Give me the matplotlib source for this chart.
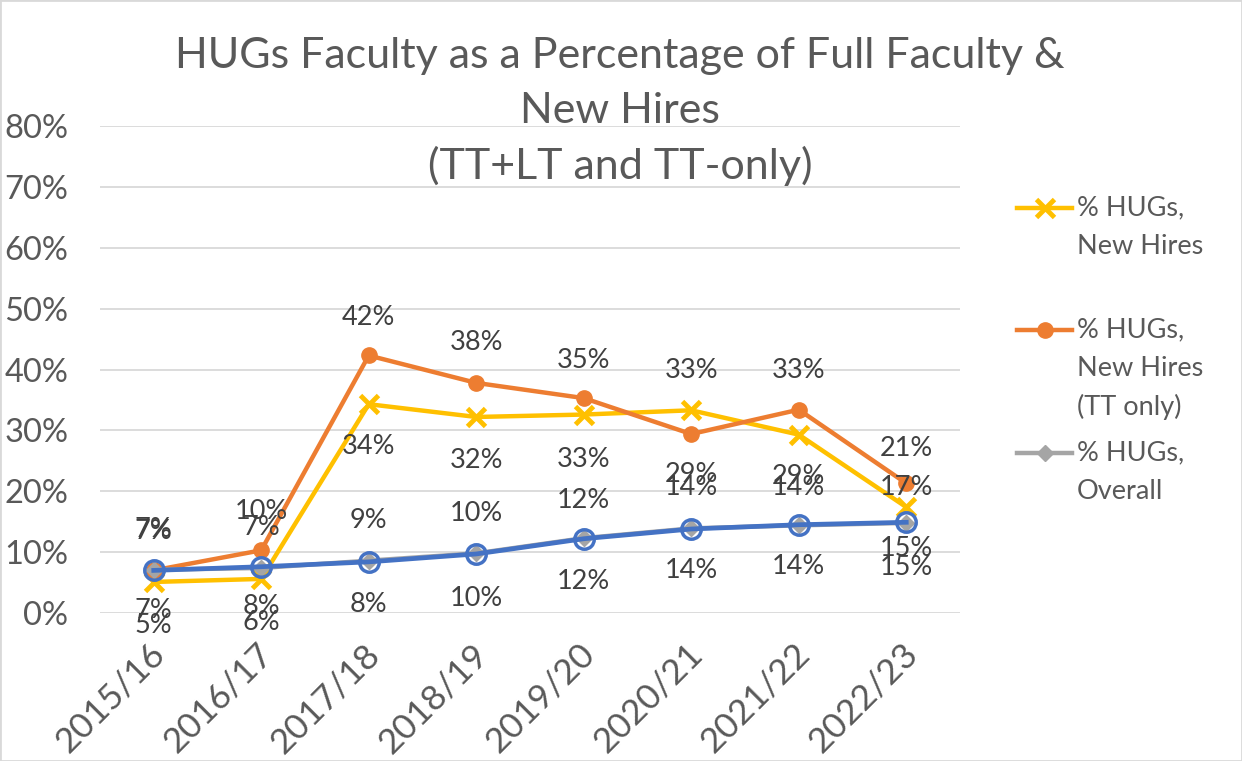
import matplotlib
matplotlib.use("Agg")
import matplotlib.pyplot as plt
from matplotlib.lines import Line2D
from matplotlib.patches import Rectangle
from matplotlib.ticker import FuncFormatter, MultipleLocator
import matplotlib.transforms as mtransforms

# ---------------- data ----------------
years = ["2015/16", "2016/17", "2017/18", "2018/19", "2019/20", "2020/21", "2021/22", "2022/23"]
new_hires = [5.1, 5.6, 34.3, 32.2, 32.6, 33.3, 29.3, 17.4]          # % HUGs, New Hires
new_hires_tt = [7.0, 10.3, 42.3, 37.8, 35.3, 29.4, 33.4, 21.3]      # % HUGs, New Hires (TT only)
overall = [7.1, 7.4, 8.6, 9.8, 12.3, 13.9, 14.4, 14.8]              # % HUGs, Overall
overall_b = [7.0, 7.6, 8.4, 9.7, 12.2, 13.8, 14.5, 14.9]            # second overall series (no legend entry)

# label offsets (pixels, vertical) for each series' data labels
off_new = [44, 44, 42, 44, 45, -40, 42, -20]
off_tt = [-39, -39, -38, -40, -38, 40, -39, -35]
off_ov = [-40, -40, -40, -40, -38, -41, -38, 26]
off_ovb = [40, 40, 43, 45, 43, 42, 42, 45]

FONT = ["Lato", "DejaVu Sans"]
plt.rcParams["font.family"] = FONT
TXT = "#595959"
LBL = "#404040"

W, H = 1242, 761
fig = plt.figure(figsize=(W / 100, H / 100), dpi=100)

def fx(px):
    return px / W

def fy(py):
    return 1 - py / H

left, right, top, bottom = 100, 960, 126, 613
ax = fig.add_axes([fx(left), fy(bottom), fx(right) - fx(left), fy(top) - fy(bottom)])

x = list(range(len(years)))

ax.plot(x, new_hires, color="#FFC000", lw=3.2, marker="x", ms=13, mew=3.5, zorder=3)
ax.plot(x, new_hires_tt, color="#ED7D31", lw=3.2, marker="o", ms=11, zorder=4)
ax.plot(x, overall, color="#A5A5A5", lw=3.2, marker="D", ms=8, zorder=5)
ax.plot(x, overall_b, color="#4472C4", lw=3.4, marker="o", ms=14, mfc="none", mec="#4472C4", mew=2.5, zorder=6)

def labels(vals, offs):
    for xi, v, o in zip(x, vals, offs):
        ax.annotate(f"{round(v)}%", (xi, v), xytext=(0, -o), textcoords="offset pixels",
                    ha="center", va="center", fontsize=19.5, color=LBL, zorder=10,
                    annotation_clip=False)

labels(new_hires, off_new)
labels(new_hires_tt, off_tt)
labels(overall, off_ov)
labels(overall_b, off_ovb)

ax.set_xlim(-0.5, len(years) - 0.5)
ax.set_ylim(0, 80)
ax.yaxis.set_major_locator(MultipleLocator(10))
ax.yaxis.set_major_formatter(FuncFormatter(lambda v, p: f"{int(round(v))}%"))
ax.grid(axis="y", color="#D9D9D9", lw=1.3)
ax.set_axisbelow(True)
for s in ax.spines.values():
    s.set_visible(False)
ax.tick_params(axis="both", length=0, colors=TXT)
ax.tick_params(axis="y", pad=23, labelsize=23.5)
ax.set_xticks(x)
ax.set_xticklabels(years, rotation=45, ha="right", rotation_mode="anchor", va="center")
ax.tick_params(axis="x", pad=26, labelsize=25.5)
offset = mtransforms.ScaledTranslation(6 / 100, 0, fig.dpi_scale_trans)
for t in ax.get_xticklabels():
    t.set_transform(t.get_transform() + offset)

# title
title_lines = ["HUGs Faculty as a Percentage of Full Faculty &", "New Hires", "(TT+LT and TT-only)"]
for line, py in zip(title_lines, [68, 123, 179]):
    fig.text(fx(620), fy(py), line, ha="center", va="baseline", fontsize=31, color=TXT)

# legend (manual)
legend_items = [
    ("#FFC000", dict(marker="x", ms=13, mew=3.5), ["% HUGs,", "New Hires"], 208),
    ("#ED7D31", dict(marker="o", ms=11), ["% HUGs,", "New Hires", "(TT only)"], 330),
    ("#A5A5A5", dict(marker="D", ms=8), ["% HUGs,", "Overall"], 453),
]
for col, mk, lines, py in legend_items:
    fig.add_artist(Line2D([fx(1017), fx(1072)], [fy(py), fy(py)], color=col, lw=3.2,
                          transform=fig.transFigure))
    fig.add_artist(Line2D([fx(1044.5)], [fy(py)], color=col, lw=0, transform=fig.transFigure, **mk))
    for i, ln in enumerate(lines):
        fig.text(fx(1077), fy(py + 38.5 * i), ln, ha="left", va="center", fontsize=19.5, color=TXT)

fig.add_artist(Rectangle((0, 0), 1, 1, transform=fig.transFigure, fill=False,
                         edgecolor="#D9D9D9", lw=2))

fig.savefig("out.png", dpi=100)
